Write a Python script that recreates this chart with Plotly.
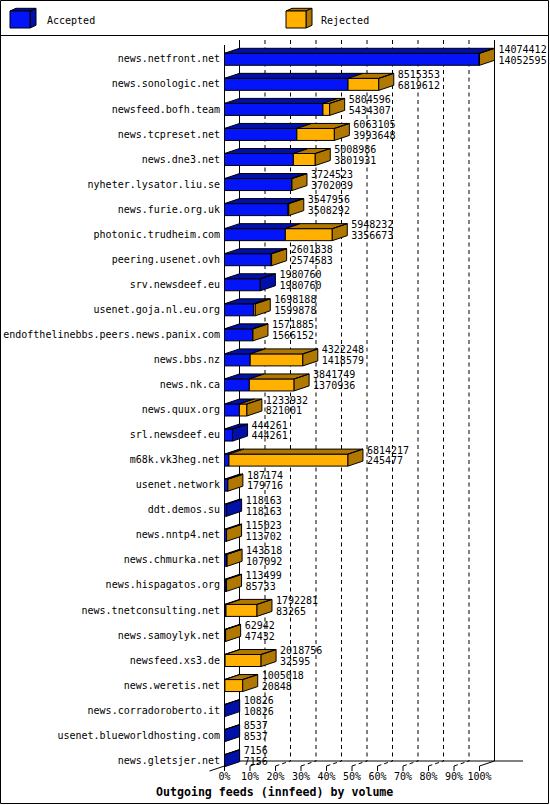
import plotly.graph_objects as go

# ---------------- data ----------------
categories = [
    "news.netfront.net", "news.sonologic.net", "newsfeed.bofh.team", "news.tcpreset.net",
    "news.dne3.net", "nyheter.lysator.liu.se", "news.furie.org.uk", "photonic.trudheim.com",
    "peering.usenet.ovh", "srv.newsdeef.eu", "usenet.goja.nl.eu.org",
    "endofthelinebbs.peers.news.panix.com", "news.bbs.nz", "news.nk.ca", "news.quux.org",
    "srl.newsdeef.eu", "m68k.vk3heg.net", "usenet.network", "ddt.demos.su", "news.nntp4.net",
    "news.chmurka.net", "news.hispagatos.org", "news.tnetconsulting.net", "news.samoylyk.net",
    "newsfeed.xs3.de", "news.weretis.net", "news.corradoroberto.it",
    "usenet.blueworldhosting.com", "news.gletsjer.net",
]
offered = [
    14074412, 8515353, 5804596, 6063105, 5008986, 3724523, 3547956, 5948232,
    2601838, 1980760, 1698188, 1571885, 4322248, 3841749, 1233932,
    444261, 6814217, 187174, 118163, 115023, 143518, 113499, 1792281, 62942,
    2018756, 1005018, 10826, 8537, 7156,
]
accepted = [
    14052595, 6819612, 5434307, 3993648, 3801931, 3702039, 3508292, 3356673,
    2574583, 1980760, 1599878, 1566152, 1418579, 1370936, 821001,
    444261, 245477, 179716, 118163, 113702, 107092, 85733, 83265, 47432,
    32595, 20848, 10826, 8537, 7156,
]
tick_values = [0, 10, 20, 30, 40, 50, 60, 70, 80, 90, 100]
tick_labels = ["0%", "10%", "20%", "30%", "40%", "50%", "60%", "70%", "80%", "90%", "100%"]
series_names = ["Accepted", "Rejected"]
title_text = "Outgoing feeds (innfeed) by volume"

# ---------------- style / geometry ----------------
W, H = 550, 805
X0_PX = 224.5        # pixel of 0 %
PX_PER_PCT = 2.55
ROW0_PX = 59.3
ROW_PX = 25.05
DEPTH_X_PX = 15
DEPTH_Y_PX = 5
BAR_PX = 12

BLUE = "#0414f8"
BLUE_D = "#0010a8"
ORANGE = "#ffb000"
ORANGE_D = "#b07800"
FONT = "DejaVu Sans Mono"


def xd(px):
    return (px - X0_PX) / PX_PER_PCT


def yd(py):
    return (py - ROW0_PX) / ROW_PX


def px_(x):
    return x / W


def py_(y):
    return 1 - y / H


dx = DEPTH_X_PX / PX_PER_PCT
dy = DEPTH_Y_PX / ROW_PX
bw = BAR_PX / ROW_PX

n = len(categories)
rows = list(range(n))
max_total = max(offered)
acc_pct = [a / max_total * 100 for a in accepted]
tot_pct = [t / max_total * 100 for t in offered]
rej_pct = [t - a for t, a in zip(tot_pct, acc_pct)]

fig = go.Figure()

# front faces
fig.add_trace(go.Bar(y=rows, x=acc_pct, base=[0] * n, orientation="h", width=bw,
                     marker=dict(color=BLUE, line=dict(color="black", width=1)),
                     hoverinfo="skip", showlegend=False))
fig.add_trace(go.Bar(y=rows, x=rej_pct, base=acc_pct, orientation="h", width=bw,
                     marker=dict(color=ORANGE, line=dict(color="black", width=1)),
                     hoverinfo="skip", showlegend=False))

# top and side faces
blue_x, blue_y, or_x, or_y = [], [], [], []


def add_poly(xs, ys, px, py):
    xs.extend(px + [px[0], None])
    ys.extend(py + [py[0], None])


for r in rows:
    yt = r - bw / 2
    yb = r + bw / 2
    a, t = acc_pct[r], tot_pct[r]
    add_poly(blue_x, blue_y, [0, a, a + dx, dx], [yt, yt, yt - dy, yt - dy])
    if offered[r] > accepted[r]:
        add_poly(or_x, or_y, [a, t, t + dx, a + dx], [yt, yt, yt - dy, yt - dy])
        add_poly(or_x, or_y, [t, t + dx, t + dx, t], [yt, yt - dy, yb - dy, yb])
    else:
        add_poly(blue_x, blue_y, [t, t + dx, t + dx, t], [yt, yt - dy, yb - dy, yb])

fig.add_trace(go.Scatter(x=blue_x, y=blue_y, mode="lines", fill="toself", fillcolor=BLUE_D,
                         line=dict(color="black", width=1), hoverinfo="skip", showlegend=False))
fig.add_trace(go.Scatter(x=or_x, y=or_y, mode="lines", fill="toself", fillcolor=ORANGE_D,
                         line=dict(color="black", width=1), hoverinfo="skip", showlegend=False))

# category labels
fig.add_trace(go.Scatter(x=[xd(220)] * n, y=[r + 0.6 / ROW_PX for r in rows], mode="text",
                         text=categories, textposition="middle left",
                         textfont=dict(family=FONT, size=10, color="black"),
                         cliponaxis=False, hoverinfo="skip", showlegend=False))
# value labels
num_x = [t + dx + 4 / PX_PER_PCT for t in tot_pct]
fig.add_trace(go.Scatter(x=num_x, y=[r - 9 / ROW_PX for r in rows], mode="text",
                         text=[str(v) for v in offered], textposition="middle right",
                         textfont=dict(family=FONT, size=10, color="black"),
                         cliponaxis=False, hoverinfo="skip", showlegend=False))
fig.add_trace(go.Scatter(x=num_x, y=[r + 1.8 / ROW_PX for r in rows], mode="text",
                         text=[str(v) for v in accepted], textposition="middle right",
                         textfont=dict(family=FONT, size=10, color="black"),
                         cliponaxis=False, hoverinfo="skip", showlegend=False))
# x tick labels
fig.add_trace(go.Scatter(x=tick_values, y=[yd(777.5)] * len(tick_values), mode="text",
                         text=tick_labels, textposition="middle center",
                         textfont=dict(family=FONT, size=10, color="black"),
                         cliponaxis=False, hoverinfo="skip", showlegend=False))

shapes = []
line_k = dict(color="black", width=1)
y_top = yd(40)
y_floor_back = yd(761)
y_floor_front = yd(766)
y_tick_end = yd(771)

# back wall grid
for t in tick_values[1:-1]:
    shapes.append(dict(type="line", xref="x", yref="y", x0=t + dx, x1=t + dx,
                       y0=y_top, y1=y_floor_back, layer="below",
                       line=dict(color="black", width=1, dash="4px,3.5px")))
for t in (0, 100):
    shapes.append(dict(type="line", xref="x", yref="y", x0=t + dx, x1=t + dx,
                       y0=y_top, y1=y_floor_back, layer="below", line=line_k))
# front axis
shapes.append(dict(type="line", xref="x", yref="y", x0=0, x1=0, y0=yd(45), y1=y_tick_end,
                   layer="below", line=line_k))
# floor
shapes.append(dict(type="line", xref="x", yref="y", x0=dx, x1=xd(523),
                   y0=y_floor_back, y1=y_floor_back, layer="below", line=line_k))
shapes.append(dict(type="line", xref="x", yref="y", x0=100, x1=100 + dx,
                   y0=y_floor_front, y1=y_floor_back, layer="below", line=line_k))
shapes.append(dict(type="line", xref="x", yref="y", x0=-dx, x1=0,
                   y0=y_tick_end, y1=y_floor_front, layer="below", line=line_k))
for t in tick_values[1:]:
    shapes.append(dict(type="line", xref="x", yref="y", x0=t, x1=t,
                       y0=y_floor_front, y1=y_tick_end, layer="below", line=line_k))
    if t < 100:
        shapes.append(dict(type="line", xref="x", yref="y", x0=t, x1=t + dx,
                           y0=y_floor_front, y1=y_floor_back, layer="below",
                           line=dict(color="black", width=1, dash="4px,3px")))

# outer frame and legend separator
shapes.append(dict(type="rect", xref="paper", yref="paper", x0=px_(0.5), x1=px_(548.5),
                   y0=py_(0.5), y1=py_(803.5), line=line_k))
shapes.append(dict(type="line", xref="paper", yref="paper", x0=px_(0), x1=px_(549),
                   y0=py_(35.5), y1=py_(35.5), line=line_k))


def cube(x0, front, top, side):
    fx0, fx1, fy0, fy1 = x0, x0 + 20, 11, 28
    ddx, ddy = 6, 2.7

    def path(pts):
        return "M " + " L ".join(f"{px_(a)},{py_(b)}" for a, b in pts) + " Z"
    return [
        dict(type="path", xref="paper", yref="paper",
             path=path([(fx0, fy0), (fx1, fy0), (fx1 + ddx, fy0 - ddy), (fx0 + ddx, fy0 - ddy)]),
             fillcolor=top, line=line_k),
        dict(type="path", xref="paper", yref="paper",
             path=path([(fx1, fy0), (fx1 + ddx, fy0 - ddy), (fx1 + ddx, fy1 - ddy), (fx1, fy1)]),
             fillcolor=side, line=line_k),
        dict(type="rect", xref="paper", yref="paper", x0=px_(fx0), x1=px_(fx1),
             y0=py_(fy0), y1=py_(fy1), fillcolor=front, line=line_k),
    ]


shapes += cube(10, BLUE, BLUE_D, BLUE_D)
shapes += cube(286, ORANGE, ORANGE_D, ORANGE_D)

annotations = [
    dict(xref="paper", yref="paper", x=px_(44.5), y=py_(20.5), xanchor="left", yanchor="middle",
         text=series_names[0], showarrow=False, font=dict(family=FONT, size=10, color="black")),
    dict(xref="paper", yref="paper", x=px_(319), y=py_(20.5), xanchor="left", yanchor="middle",
         text=series_names[1], showarrow=False, font=dict(family=FONT, size=10, color="black")),
    dict(xref="paper", yref="paper", x=px_(274.5), y=py_(791.7), xanchor="center",
         yanchor="middle", text="<b>" + title_text + "</b>", showarrow=False,
         font=dict(family=FONT, size=11.6, color="black")),
]

fig.update_layout(
    width=W, height=H,
    margin=dict(l=0, r=0, t=0, b=0, pad=0),
    paper_bgcolor="white", plot_bgcolor="white",
    barmode="overlay", showlegend=False,
    xaxis=dict(range=[xd(0), xd(W)], visible=False, fixedrange=True),
    yaxis=dict(range=[yd(H), yd(0)], visible=False, fixedrange=True),
    shapes=shapes, annotations=annotations,
)

fig.write_html(
    "out.html",
    config={"displayModeBar": False, "staticPlot": True},
    post_script="document.body.style.margin='0px';document.body.style.overflow='hidden';",
)
